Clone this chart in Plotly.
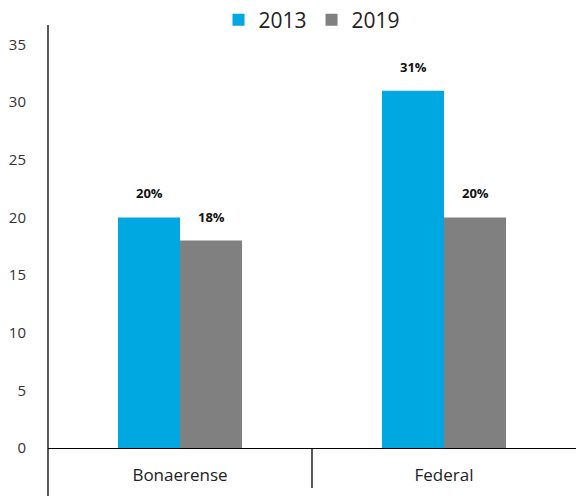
import plotly.graph_objects as go

# Categories and series values (percent)
categories = ["Bonaerense", "Federal"]
years = ["2013", "2019"]
values_2013 = [20, 31]
values_2019 = [18, 20]
series_colors = ["#00A8E1", "#808080"]
y_ticks = [0, 5, 10, 15, 20, 25, 30, 35]

series = [values_2013, values_2019]

fig = go.Figure()
for name, vals, col in zip(years, series, series_colors):
    fig.add_trace(go.Bar(
        x=categories, y=vals, name=name,
        marker=dict(color=col, line=dict(width=0)),
        hoverinfo="skip",
    ))

# Bold percentage labels floating above each bar
bar_px = 62
for i, vals in enumerate(series):
    shift = (i - 0.5) * bar_px
    for cat, v in zip(categories, vals):
        fig.add_annotation(
            x=cat, y=v, xshift=shift, yshift=24,
            text=f"<b>{v:.0f}%</b>", showarrow=False,
            xanchor="center", yanchor="middle",
            font=dict(family="Open Sans", size=13, color="#111111"),
        )

# Axis line continues below the category axis; divider between categories
fig.add_shape(type="line", xref="paper", yref="paper",
              x0=0, x1=0, y0=-48 / 423, y1=1,
              line=dict(color="black", width=1.3))
fig.add_shape(type="line", xref="x", yref="paper",
              x0=0.5, x1=0.5, y0=-40 / 423, y1=0,
              line=dict(color="black", width=1.3))

fig.update_layout(
    width=578, height=496,
    margin=dict(l=48, r=2, t=25, b=48, autoexpand=False),
    plot_bgcolor="white", paper_bgcolor="white",
    barmode="group", bargap=0.53, bargroupgap=0,
    font=dict(family="Open Sans", color="#222222"),
    showlegend=True,
    legend=dict(
        orientation="h", x=0.5, xanchor="center",
        yref="container", y=1 - 20 / 496, yanchor="middle",
        font=dict(size=21, color="#222222"),
        itemwidth=30, traceorder="normal",
        bgcolor="rgba(0,0,0,0)",
    ),
    xaxis=dict(
        showline=True, linecolor="black", linewidth=1.3,
        showgrid=False, ticks="", zeroline=False,
        tickfont=dict(size=17, color="#222222"),
        ticklabelstandoff=11,
    ),
    yaxis=dict(
        range=[0, 36.7], tickvals=y_ticks,
        showline=False, showgrid=False, zeroline=False, ticks="",
        tickfont=dict(size=15, color="#333333"),
        ticklabelstandoff=21,
    ),
)

fig.write_html("out.html")
